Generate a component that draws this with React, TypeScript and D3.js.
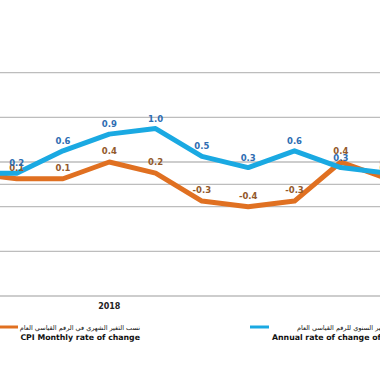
import * as d3 from "d3";
import React from "react";

// categories (months of the visible window), year groups
const months = ["Jun", "Jul", "Aug", "Sep", "Oct", "Nov", "Dec", "Jan", "Feb", "Mar"];
const years = ["2018", "2018", "2018", "2018", "2018", "2018", "2018", "2019", "2019", "2019"];

// CPI monthly rate of change (%)
const monthly = [0.2, 0.1, 0.1, 0.4, 0.2, -0.3, -0.4, -0.3, 0.4, 0.1];
// annual rate of change of CPI (%)
const annual = [0.2, 0.2, 0.6, 0.9, 1.0, 0.5, 0.3, 0.6, 0.3, 0.2];

const gridTicks = [-2, -1.2, -0.4, 0.4, 1.2, 2];

const width = 380;
const height = 372;

const BLUE = "#1aa9e2";
const ORANGE = "#e07021";
const BLUE_LABEL = "#2e6db2";
const ORANGE_LABEL = "#93592b";
const FONT = "DejaVu Sans, Verdana, sans-serif";

const App = () => {
  const x = d3
    .scalePoint<string>()
    .domain(months.map((m, i) => `${m}-${years[i]}`))
    .range([-29.6, -29.6 + 46.3 * (months.length - 1)]);

  const y = d3.scaleLinear().domain([-2, 2]).range([296, 72.7]);

  const keys = months.map((m, i) => `${m}-${years[i]}`);
  const xi = (i: number) => x(keys[i]) as number;

  const line = d3
    .line<number>()
    .x((_, i) => xi(i))
    .y((d) => y(d));

  const yearX = d3.mean(keys.filter((_, i) => years[i] === "2018").map((k) => x(k) as number)) as number;

  return (
    <svg width={width} height={height} style={{ position: "absolute", left: 0, top: 0, background: "#fff" }}>
      {gridTicks.map((t) => (
        <line key={t} x1={0} x2={width} y1={y(t)} y2={y(t)} stroke="#bdbdbd" strokeWidth={1.3} />
      ))}
      <line x1={0} x2={width} y1={y(0)} y2={y(0)} stroke="#bdbdbd" strokeWidth={1.3} />

      <path d={line(monthly) as string} fill="none" stroke={ORANGE} strokeWidth={5} strokeLinejoin="round" />
      <path d={line(annual) as string} fill="none" stroke={BLUE} strokeWidth={5} strokeLinejoin="round" />

      <g fontFamily={FONT} fontWeight="bold" fontSize={8.5} textAnchor="middle">
        {monthly.map((v, i) => (
          <text key={"m" + i} x={xi(i)} y={y(v) - 8} fill={ORANGE_LABEL}>
            {v.toFixed(1)}
          </text>
        ))}
        {annual.map((v, i) => (
          <text key={"a" + i} x={xi(i)} y={y(v) - 7} fill={BLUE_LABEL}>
            {v.toFixed(1)}
          </text>
        ))}
      </g>

      <text x={yearX} y={309} fontFamily={FONT} fontWeight="bold" fontSize={8} textAnchor="middle" fill="#222">
        2018
      </text>

      {/* legend */}
      <line x1={-1} x2={18} y1={327} y2={327} stroke={ORANGE} strokeWidth={3} />
      <text x={140} y={329.5} fontFamily={FONT} fontSize={6.5} textAnchor="end" fill="#111">
        نسب التغير الشهري في الرقم القياسي العام
      </text>
      <text x={140} y={340} fontFamily={FONT} fontWeight="bold" fontSize={7.8} textAnchor="end" fill="#111">
        CPI Monthly rate of change
      </text>

      <line x1={250} x2={269} y1={327} y2={327} stroke={BLUE} strokeWidth={3} />
      <text x={297} y={329.5} fontFamily={FONT} fontSize={6.5} textAnchor="start" fill="#111">
        نسب التغير السنوي للرقم القياسي العام
      </text>
      <text x={272} y={340} fontFamily={FONT} fontWeight="bold" fontSize={7.8} textAnchor="start" fill="#111">
        Annual rate of change of CPI
      </text>
    </svg>
  );
};

export default App;
